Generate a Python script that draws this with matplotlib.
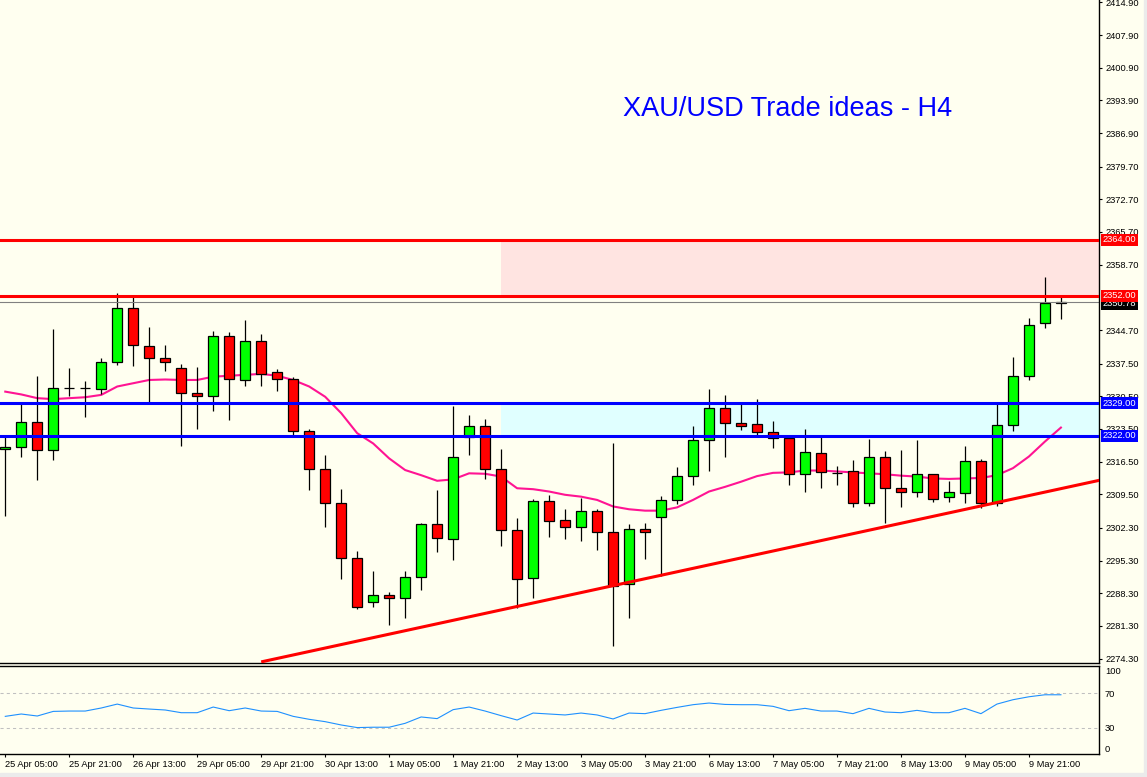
import matplotlib
matplotlib.use('Agg')
import matplotlib.pyplot as plt
from matplotlib.patches import Rectangle
import numpy as np

plt.rcParams['font.family'] = ['Liberation Sans', 'DejaVu Sans']

# XAU/USD H4 candles, 25 Apr 05:00 .. 10 May 05:00
opens = [2319.3, 2319.6, 2324.9, 2319.1, 2332.2, 2332.2, 2332.0, 2337.8, 2349.4, 2341.2, 2338.6, 2336.5,
         2331.1, 2330.5, 2343.4, 2333.9, 2342.3, 2335.6, 2334.1, 2323.0, 2314.9, 2307.6, 2295.8,
         2286.4, 2287.9, 2287.2, 2291.7, 2303.1, 2299.9, 2321.7, 2324.1, 2314.9, 2301.8, 2291.5,
         2308.0, 2303.9, 2302.4, 2305.9, 2301.4, 2290.2, 2302.0, 2304.6, 2308.2, 2313.4, 2321.1,
         2327.9, 2324.7, 2324.5, 2322.8, 2321.5, 2313.8, 2318.3, 2314.0, 2314.4, 2307.6, 2317.6,
         2310.8, 2309.9, 2313.8, 2308.9, 2309.7, 2316.6, 2307.6, 2324.3, 2334.8, 2346.1, 2350.4]
highs = [2322.2, 2328.8, 2334.9, 2344.9, 2336.5, 2333.8, 2338.6, 2352.6, 2351.7, 2345.4, 2341.5, 2337.4,
         2336.8, 2344.5, 2344.3, 2346.9, 2343.9, 2336.4, 2334.6, 2323.4, 2317.9, 2310.6, 2297.4,
         2293.1, 2288.5, 2293.1, 2303.3, 2310.4, 2328.4, 2326.5, 2325.6, 2319.2, 2304.4, 2308.5,
         2309.3, 2306.4, 2308.8, 2306.3, 2320.6, 2303.1, 2303.3, 2309.1, 2315.4, 2324.1, 2332.1,
         2330.8, 2328.9, 2329.9, 2325.2, 2321.9, 2323.6, 2322.3, 2315.5, 2316.8, 2321.3, 2318.7,
         2318.9, 2321.1, 2313.8, 2312.3, 2319.8, 2317.0, 2329.2, 2338.9, 2347.2, 2356.0, 2352.2]
lows = [2304.9, 2317.6, 2312.6, 2316.9, 2330.6, 2326.1, 2331.0, 2337.2, 2336.9, 2328.8, 2336.0, 2319.9,
        2323.6, 2327.4, 2325.5, 2332.8, 2332.8, 2331.7, 2321.9, 2310.4, 2302.6, 2291.4, 2284.9,
        2285.4, 2281.4, 2283.1, 2288.9, 2297.2, 2295.5, 2317.9, 2312.8, 2298.5, 2285.2, 2287.3,
        2300.4, 2300.0, 2299.6, 2297.6, 2276.9, 2282.9, 2295.7, 2291.9, 2307.4, 2311.4, 2314.4,
        2317.6, 2323.3, 2322.2, 2319.5, 2311.6, 2309.9, 2310.9, 2311.6, 2306.85, 2307.1, 2303.3,
        2306.7, 2308.9, 2307.8, 2307.8, 2307.7, 2306.5, 2307.1, 2323.1, 2333.9, 2345.2, 2347.1]
closes = [2319.6, 2324.9, 2318.9, 2332.2, 2332.2, 2332.2, 2337.8, 2349.4, 2341.4, 2338.6, 2337.8, 2331.1,
          2330.5, 2343.4, 2334.1, 2342.3, 2335.2, 2334.1, 2323.0, 2314.9, 2307.6, 2295.8, 2285.3,
          2287.9, 2287.2, 2291.7, 2303.1, 2300.1, 2317.6, 2324.1, 2314.9, 2301.8, 2291.3, 2308.0,
          2303.7, 2302.4, 2305.9, 2301.4, 2289.9, 2302.0, 2301.4, 2308.2, 2313.4, 2321.1, 2327.9,
          2324.7, 2324.1, 2322.8, 2321.5, 2313.8, 2318.5, 2314.2, 2314.0, 2307.6, 2317.6, 2310.8,
          2309.9, 2313.8, 2308.6, 2309.9, 2316.6, 2307.6, 2324.3, 2334.8, 2345.7, 2350.4, 2350.78]

# moving average (pink)
ma = [2331.5, 2330.9, 2330.1, 2329.9, 2330.1, 2330.3, 2330.8, 2332.6, 2333.3, 2334.0, 2334.1, 2334.0,
      2334.0, 2334.7, 2334.9, 2335.1, 2335.3, 2334.9, 2334.0, 2332.6, 2330.4, 2326.9, 2322.6,
      2320.4, 2317.2, 2314.7, 2313.6, 2312.4, 2312.7, 2314.0, 2313.9, 2313.3, 2310.8, 2310.6,
      2310.1, 2309.4, 2309.0, 2308.3, 2306.9, 2306.3, 2306.0, 2306.0, 2306.7, 2308.3, 2310.1,
      2311.1, 2312.2, 2313.4, 2314.1, 2314.2, 2314.6, 2314.6, 2314.4, 2314.2, 2314.0, 2313.8,
      2313.5, 2313.3, 2312.9, 2312.8, 2312.9, 2313.0, 2313.6, 2315.1, 2317.6, 2320.8, 2323.8]

rsi = [43.3, 46.0, 43.7, 49.0, 49.4, 49.4, 52.9, 57.4, 52.9, 51.7, 50.6, 47.5, 47.5, 54.0, 49.8, 52.9,
       49.4, 49.0, 43.3, 39.9, 37.2, 33.4, 30.4,
       30.8, 30.8, 35.3, 42.6, 40.7, 51.0, 54.0, 49.4, 44.1, 39.1, 47.1, 46.0, 44.9, 47.1, 44.9,
       40.3, 47.1, 46.4, 50.2, 53.6, 56.7, 58.6, 57.0,
       56.7, 56.7, 54.8, 49.8, 52.5, 49.4, 49.4, 46.4, 52.5, 48.3, 47.5, 50.2, 47.5, 47.5, 52.5,
       46.4, 57.4, 62.4, 65.8, 68.1, 68.1]

date_labels = ["25 Apr 05:00", "25 Apr 21:00", "26 Apr 13:00", "29 Apr 05:00", "29 Apr 21:00",
               "30 Apr 13:00", "1 May 05:00", "1 May 21:00", "2 May 13:00", "3 May 05:00",
               "3 May 21:00", "6 May 13:00", "7 May 05:00", "7 May 21:00", "8 May 13:00",
               "9 May 05:00", "9 May 21:00"]

price_ticks = [2414.90, 2407.90, 2400.90, 2393.90, 2386.90, 2379.70, 2372.70, 2365.70, 2358.70,
               2344.70, 2337.50, 2330.50, 2323.50, 2316.50, 2309.50, 2302.30, 2295.30, 2288.30,
               2281.30, 2274.30]

# horizontal levels and zones
red_levels = [2364.00, 2352.00]
blue_levels = [2329.00, 2322.00]
zone_start = 31
bid = 2350.78
trend_x = [16.0, 68.4]
trend_y = [2273.6, 2312.5]

bg = '#FFFFF0'
W, H = 1147, 777
fig = plt.figure(figsize=(W / 100, H / 100), dpi=100, facecolor=bg)

right = 1099.3 / W
ax = fig.add_axes([0, 1 - 663.3 / H, right, 663.3 / H], facecolor=bg)
ax2 = fig.add_axes([0, 1 - 754.3 / H, right, (754.3 - 665.7) / H], facecolor=bg)

bars = np.arange(len(opens))
o = np.array(opens)
c = np.array(closes)

# zones
ax.fill_between([zone_start, 80], red_levels[1], red_levels[0], color='#FFE4E1', lw=0, zorder=0.5)
ax.fill_between([zone_start, 80], blue_levels[1], blue_levels[0], color='#E0FFFF', lw=0, zorder=0.5)

ax.plot(bars, ma, color='#FF1493', lw=1.5, zorder=1.5)

# candles
ax.vlines(bars, lows, highs, color='black', lw=0.9, zorder=1.9)
body_col = ['#00FF00' if cc >= oo else '#FF0000' for oo, cc in zip(o, c)]
ax.bar(bars, np.maximum(np.abs(c - o), 0.08), bottom=np.minimum(o, c), width=0.62,
       color=body_col, edgecolor='black', linewidth=0.9, zorder=2)

# bid line
ax.axhline(bid, color='#808080', lw=0.8, zorder=2.5)
ax.annotate(f'{bid:.2f}', xy=(1, bid), xycoords=('axes fraction', 'data'), xytext=(2.5, -1.5),
            textcoords='offset points', ha='left', va='center', color='white', fontsize=6.7,
            bbox=dict(boxstyle='square,pad=0.18', fc='black', ec='none'), annotation_clip=False, zorder=5)

for lvl in red_levels:
    ax.axhline(lvl, color='#FF0000', lw=2.2, zorder=3)
for lvl in blue_levels:
    ax.axhline(lvl, color='#0000FF', lw=2.2, zorder=3)
ax.plot(trend_x, trend_y, color='#FF0000', lw=2.2, zorder=3, solid_capstyle='butt')

for lvl, col in [(l, '#FF0000') for l in red_levels] + [(l, '#0000FF') for l in blue_levels]:
    ax.annotate(f'{lvl:.2f}', xy=(1, lvl), xycoords=('axes fraction', 'data'), xytext=(2.5, 0),
                textcoords='offset points', ha='left', va='center', color='white', fontsize=6.7,
                bbox=dict(boxstyle='square,pad=0.18', fc=col, ec='none'), annotation_clip=False, zorder=6)

ax.set_xlim(-0.33, 68.4)
ax.set_ylim(2273.3, 2415.4)
ax.yaxis.tick_right()
ax.set_yticks(price_ticks)
ax.set_yticklabels([f'{p:.2f}' for p in price_ticks])
ax.tick_params(axis='y', direction='out', length=2.2, width=0.8, pad=2, labelsize=6.7)
ax.set_xticks([])
for s in ['left', 'top']:
    ax.spines[s].set_visible(False)
for s in ['right', 'bottom']:
    ax.spines[s].set_linewidth(1.0)

ax.text(788 / W, 1 - 109 / H, 'XAU/USD Trade ideas - H4', transform=fig.transFigure,
        color='#0000FF', fontsize=19.5, ha='center', va='center')

# RSI panel
ax2.plot(bars, rsi, color='#1E90FF', lw=0.8)
for lvl in [70, 30]:
    ax2.axhline(lvl, color='#C0C0C0', lw=0.75, linestyle=(0, (3, 3)))
ax2.set_xlim(-0.33, 68.4)
ax2.set_ylim(-0.3, 101.5)
ax2.yaxis.tick_right()
ax2.set_yticks([0, 30, 70, 100])
ax2.set_yticklabels(['0', '30', '70', '100'])
ax2.tick_params(axis='y', length=0, pad=4, labelsize=6.7)
ylabs = ax2.get_yticklabels()
ylabs[0].set_verticalalignment('bottom')
ylabs[3].set_verticalalignment('top')
ax2.set_xticks(bars[::4])
ax2.set_xticklabels(date_labels, ha='left')
ax2.tick_params(axis='x', direction='out', length=2.5, width=0.8, pad=1.5, labelsize=6.7)
ax2.spines['left'].set_visible(False)
for s in ['right', 'top', 'bottom']:
    ax2.spines[s].set_linewidth(1.0)

# grey window edges at bottom and right
fig.patches.append(Rectangle((0, 0), 1, 4 / H, transform=fig.transFigure, color='#EBEBEB', zorder=0))
fig.patches.append(Rectangle((1 - 3 / W, 0), 3 / W, 1, transform=fig.transFigure, color='#EBEBEB', zorder=0))

fig.savefig('out.png', dpi=100, facecolor=bg)
